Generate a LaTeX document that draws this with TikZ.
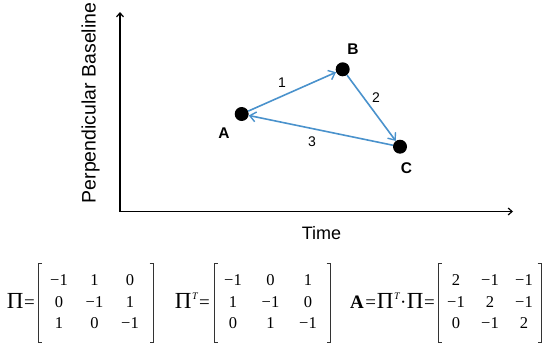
\documentclass[tikz,border=0pt]{standalone}
\usepackage{fontspec}
\setmainfont{Liberation Sans}
\newfontfamily\matfont{Liberation Serif}
\usetikzlibrary{arrows.meta,matrix}
\definecolor{edgeblue}{RGB}{74,146,204}
\newcommand\PiG{{\fontsize{23}{23}\selectfont Π}}
\newcommand\PiT{\PiG\kern0.5pt\raisebox{9pt}{\fontsize{10}{10}\selectfont\itshape T}}
\begin{document}
\begin{tikzpicture}[x=1pt,y=-1pt,
  axisline/.style={line width=1.4pt,-{Straight Barb[length=4pt,width=7pt,line width=1.2pt]}},
  dotnode/.style={circle,fill=black,minimum size=14pt,inner sep=0pt},
  dotlbl/.style={font=\bfseries\fontsize{15.5}{15.5}\selectfont,inner sep=0pt},
  numlbl/.style={font=\fontsize{14}{14}\selectfont,inner sep=0pt},
  edgearrow/.style={draw=edgeblue,line width=1.6pt,-{Straight Barb[length=6pt,width=10pt,line width=1.4pt]}},
  matcell/.style={inner sep=0pt,minimum height=21.5pt,anchor=center},
  matbox/.style={matrix of nodes,inner sep=0pt,column sep=0pt,row sep=0pt,
     nodes={matcell,font=\matfont\fontsize{16.5}{16.5}\selectfont}},
  matlbl/.style={anchor=base east,inner sep=0pt,font=\matfont\fontsize{19}{19}\selectfont},
  bracket/.style={line width=0.9pt,draw=black!80}]
\useasboundingbox (0,0) rectangle (550,348);

% axes
\coordinate (origin) at (120,211.5);
\coordinate (ytop) at (120,12);
\coordinate (xend) at (513,211.5);
\draw[axisline] (origin) -- (ytop);
\draw[axisline] (origin) -- (xend);
\node[rotate=90,font=\fontsize{19.5}{19.5}\selectfont,inner sep=0pt] (ylab) at (90.5,103) {Perpendicular Baseline};
\node[font=\fontsize{18}{18}\selectfont,inner sep=0pt] (xlab) at (321.5,233) {Time};

% graph
\node[dotnode] (A) at (241.7,114) {};
\node[dotnode] (B) at (342.7,69.3) {};
\node[dotnode] (C) at (400,146.7) {};
\node[dotlbl] (Albl) at (224,133.5) {A};
\node[dotlbl] (Blbl) at (353,49.5) {B};
\node[dotlbl] (Clbl) at (406.5,168) {C};
\draw[edgearrow] (A) -- (B);
\draw[edgearrow] (B) -- (C);
\draw[edgearrow] (C) -- (A);
\node[numlbl] (e1) at (282,82.7) {1};
\node[numlbl] (e2) at (376,97.5) {2};
\node[numlbl] (e3) at (312,141.5) {3};

% matrices
\matrix (m1) [matbox,nodes={minimum width=35.5pt}] at (94.5,302) {
  −1 & 1 & 0 \\
  0 & −1 & 1 \\
  1 & 0 & −1 \\
};
\matrix (m2) [matbox,nodes={minimum width=37.5pt}] at (270.5,302) {
  −1 & 0 & 1 \\
  1 & −1 & 0 \\
  0 & 1 & −1 \\
};
\matrix (m3) [matbox,nodes={minimum width=34pt}] at (490,302) {
  2 & −1 & −1 \\
  −1 & 2 & −1 \\
  0 & −1 & 2 \\
};
\node[matlbl] (l1) at (35,308) {\PiG\kern0.5pt=};
\node[matlbl] (l2) at (210,308) {\PiT\kern1.5pt=};
\node[matlbl] (l3) at (435,308) {\textbf{A}\kern1.5pt=\kern1pt\PiT\kern0.5pt·\kern0.5pt\PiG\kern0.5pt=};

% brackets
\draw[bracket] (42,263) -- (38.5,263) -- (38.5,342) -- (42,342);
\draw[bracket] (149.5,263) -- (153,263) -- (153,342) -- (149.5,342);
\draw[bracket] (217.5,263) -- (214,263) -- (214,342) -- (217.5,342);
\draw[bracket] (326.5,263) -- (330,263) -- (330,342) -- (326.5,342);
\draw[bracket] (441.5,263) -- (438,263) -- (438,342) -- (441.5,342);
\draw[bracket] (537.5,263) -- (541,263) -- (541,342) -- (537.5,342);
\end{tikzpicture}
\end{document}
